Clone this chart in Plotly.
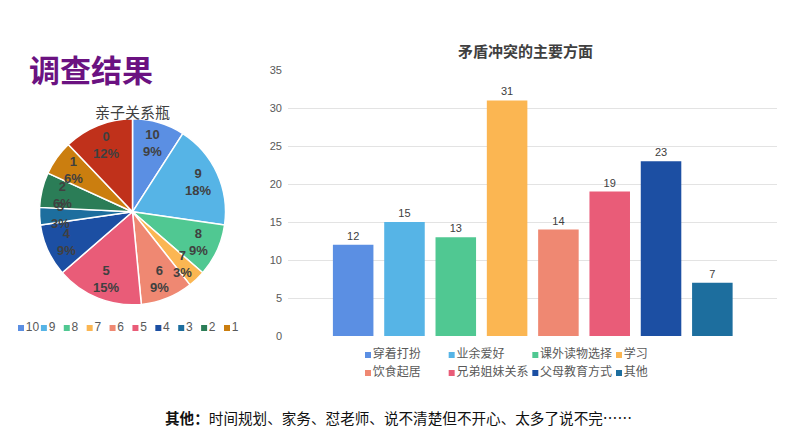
#!/usr/bin/env python3
"""调查结果: 亲子关系瓶 饼图 + 矛盾冲突的主要方面 柱状图"""

import math
import plotly.graph_objects as go

# 饼图数据 (33人)
pie_labels = ["10", "9", "8", "7", "6", "5", "4", "3", "2", "1", "0"]
pie_counts = [3, 6, 3, 1, 3, 5, 3, 1, 2, 2, 4]
pie_colors = ['#5B8FE3', '#56B4E6', '#50C892', '#FBB652', '#EF8872', '#E95C78',
              '#1C4FA3', '#1D6E9E', '#2B7D57', '#CB7E0F', '#C0311B']
pie_legend_labels = pie_labels[:10]  # 原图图例只显示到 1

# 柱状图数据
bar_categories = ["穿着打扮", "业余爱好", "课外读物选择", "学习",
                  "饮食起居", "兄弟姐妹关系", "父母教育方式", "其他"]
bar_values = [12, 15, 13, 31, 14, 19, 23, 7]
bar_colors = ['#5B8FE3', '#56B4E6', '#50C892', '#FBB652',
              '#EF8872', '#E95C78', '#1C4FA3', '#1D6E9E']
y_ticks = [0, 5, 10, 15, 20, 25, 30, 35]

FONT = "Noto Sans CJK SC, Liberation Sans, sans-serif"
W, H = 794, 447
# 页面里图的实际位置 (页边距等), 实测
OX, OY, PW, PH = 8, 14, 794, 435


def px(x, y):
    """截图像素坐标 -> paper 坐标"""
    return (x - OX) / PW, 1 - (y - OY) / PH


fig = go.Figure()

# 饼图
PIE_CX, PIE_CY, PIE_R = 132.5, 211.8, 93
x0, y0 = px(PIE_CX - PIE_R, PIE_CY + PIE_R)
x1, y1 = px(PIE_CX + PIE_R, PIE_CY - PIE_R)
fig.add_trace(go.Pie(
    labels=pie_labels,
    values=pie_counts,
    sort=False,
    direction='clockwise',
    marker=dict(colors=pie_colors, line=dict(color='white', width=1.5)),
    textinfo='none',
    domain=dict(x=[x0, x1], y=[y0, y1]),
    showlegend=False,
    hoverinfo='label+percent',
))

# 饼图标签: 沿扇区中线放在 0.775r 处
total = sum(pie_counts)
cum = 0
for lab, v in zip(pie_labels, pie_counts):
    ang = (cum + v / 2) / total * 2 * math.pi
    cum += v
    lx = PIE_CX + 0.775 * PIE_R * math.sin(ang)
    ly = PIE_CY - 0.775 * PIE_R * math.cos(ang)
    tx, ty = px(lx, ly)
    fig.add_annotation(text=f"{lab}<br>{v / total:.0%}", x=tx, y=ty,
                       xref='paper', yref='paper', showarrow=False,
                       xanchor='center', yanchor='middle',
                       font=dict(family="Liberation Sans, Arial", size=13,
                                 color='#404040', weight='bold'))

# 饼图图例 (手动)
fig.add_trace(go.Scatter(
    x=list(range(len(pie_legend_labels))),
    y=[0] * len(pie_legend_labels),
    mode='markers+text',
    text=pie_legend_labels,
    textposition='middle right',
    textfont=dict(family="Liberation Sans, Arial", size=12, color='#595959'),
    marker=dict(symbol='square', size=6, color=pie_colors[:10]),
    xaxis='x2', yaxis='y2',
    cliponaxis=False,
    showlegend=False,
    hoverinfo='skip',
))

# 柱状图
fig.add_trace(go.Bar(
    x=bar_categories,
    y=bar_values,
    marker=dict(color=bar_colors, line=dict(width=0)),
    text=bar_values,
    textposition='outside',
    textfont=dict(family="Liberation Sans, Arial", size=11, color='#404040'),
    cliponaxis=False,
    showlegend=False,
))

# 柱状图图例 (2行4列)
fig.add_trace(go.Scatter(
    x=[i % 4 for i in range(len(bar_categories))],
    y=[-(i // 4) for i in range(len(bar_categories))],
    mode='markers+text',
    text=bar_categories,
    textposition='middle right',
    textfont=dict(family=FONT, size=12, color='#595959'),
    marker=dict(symbol='square', size=6, color=bar_colors),
    xaxis='x3', yaxis='y3',
    cliponaxis=False,
    showlegend=False,
    hoverinfo='skip',
))

bx0, by0 = px(288, 336)
bx1, by1 = px(777, 70)
lx0, ly0 = px(21, 333)
lx1, ly1 = px(227, 323)
gx0, gy0 = px(368, 373)
gx1, gy1 = px(619, 355)

fig.update_layout(
    width=W, height=H,
    margin=dict(l=0, r=0, t=0, b=0),
    plot_bgcolor='white',
    paper_bgcolor='white',
    font=dict(family=FONT, size=12, color='#404040'),
    bargap=0.21,
    xaxis=dict(
        domain=[bx0, bx1],
        range=[-1.27, 8.26],
        showticklabels=False,
        showgrid=False,
        zeroline=False,
        fixedrange=True,
    ),
    yaxis=dict(
        domain=[by0, by1],
        range=[0, 35],
        tickvals=y_ticks,
        gridcolor='#E3E3E3',
        gridwidth=1,
        zeroline=False,
        showline=False,
        ticklabelstandoff=5,
        tickfont=dict(family="Liberation Sans, Arial", size=11, color='#595959'),
    ),
    xaxis2=dict(domain=[lx0, lx1], range=[0, 9], visible=False),
    yaxis2=dict(domain=[ly0, ly1], range=[-1, 1], visible=False),
    xaxis3=dict(domain=[gx0, gx1], range=[0, 3], visible=False),
    yaxis3=dict(domain=[gy0, gy1], range=[-1, 0], visible=False),
)

# 标题及文字
tx, ty = px(27, 68)
fig.add_annotation(text="<b>调查结果</b>", x=tx, y=ty, xref='paper', yref='paper',
                   xanchor='left', yanchor='middle', showarrow=False,
                   font=dict(family=FONT, size=31, color='#6B1281'))

tx, ty = px(133, 111)
fig.add_annotation(text="亲子关系瓶", x=tx, y=ty, xref='paper', yref='paper',
                   xanchor='center', yanchor='middle', showarrow=False,
                   font=dict(family=FONT, size=15, color='#404040'))

tx, ty = px(525.5, 51)
fig.add_annotation(text="<b>矛盾冲突的主要方面</b>", x=tx, y=ty, xref='paper', yref='paper',
                   xanchor='center', yanchor='middle', showarrow=False,
                   font=dict(family=FONT, size=15, color='#404040'))

tx, ty = px(163, 417)
fig.add_annotation(text="<b>其他：</b>时间规划、家务、怼老师、说不清楚但不开心、太多了说不完……",
                   x=tx, y=ty, xref='paper', yref='paper',
                   xanchor='left', yanchor='middle', showarrow=False,
                   font=dict(family=FONT, size=14.6, color='#111111'))

fig.write_html("out.html")
